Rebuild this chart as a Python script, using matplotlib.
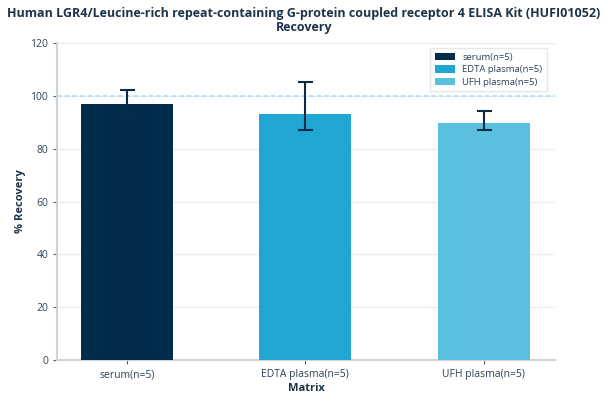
import matplotlib
matplotlib.use("Agg")
import matplotlib.pyplot as plt
import numpy as np

plt.rcParams["font.family"] = ["Open Sans", "DejaVu Sans"]

categories = ["serum(n=5)", "EDTA plasma(n=5)", "UFH plasma(n=5)"]
recovery   = [96.8, 93.0, 89.8]
err_low    = [5.3, 5.9, 2.7]
err_high   = [5.3, 12.3, 4.4]
colors     = ["#022c4b", "#20a6d3", "#5bbfe0"]
yticks     = [0, 20, 40, 60, 80, 100, 120]

TEXT   = "#1d3349"
SPINE  = "#ccd3da"

fig = plt.figure(figsize=(6.08, 4.01), dpi=100)
ax = fig.add_axes([0.094, 0.102, 0.819, 0.791])

x = np.arange(len(categories))
for i in range(len(categories)):
    ax.bar(x[i], recovery[i], width=0.515, color=colors[i], label=categories[i], zorder=3)
ax.errorbar(x, recovery, yerr=[err_low, err_high], fmt="none", ecolor="#062c4a",
            elinewidth=1.5, capsize=5.4, capthick=1.5, zorder=4)

ax.axhline(100, color="#a9d9ec", linestyle=(0, (3, 2)), linewidth=1.1, zorder=2)

ax.set_xlim(-0.39, 2.4)
ax.set_ylim(0, 120)
ax.set_yticks(yticks)
ax.set_xticks(x)
ax.set_xticklabels(categories)
ax.grid(axis="y", color="#e6eaee", linewidth=0.9, zorder=0)
ax.set_axisbelow(True)

for s in ["top", "right"]:
    ax.spines[s].set_visible(False)
for s in ["left", "bottom"]:
    ax.spines[s].set_color(SPINE)
    ax.spines[s].set_linewidth(1.5)
ax.tick_params(colors="#555f6a", labelcolor="#2c4258", labelsize=7.5, length=3, width=0.8)

ax.set_xlabel("Matrix", fontsize=8, fontweight="bold", color=TEXT, labelpad=2)
ax.set_ylabel("% Recovery", fontsize=8, fontweight="bold", color=TEXT, labelpad=3)
fig.suptitle("Human LGR4/Leucine-rich repeat-containing G-protein coupled receptor 4 ELISA Kit (HUFI01052)\nRecovery",
             fontsize=9, fontweight="bold", color=TEXT, y=0.982, linespacing=1.1)

leg = ax.legend(loc="upper right", bbox_to_anchor=(0.993, 0.998), fontsize=6.8, frameon=True,
                handlelength=2.1, handleheight=0.8, borderpad=0.5, labelspacing=0.35,
                fancybox=False, edgecolor="#dde3e8")
for t in leg.get_texts():
    t.set_color("#2c4258")

fig.savefig("out.png", dpi=100)
